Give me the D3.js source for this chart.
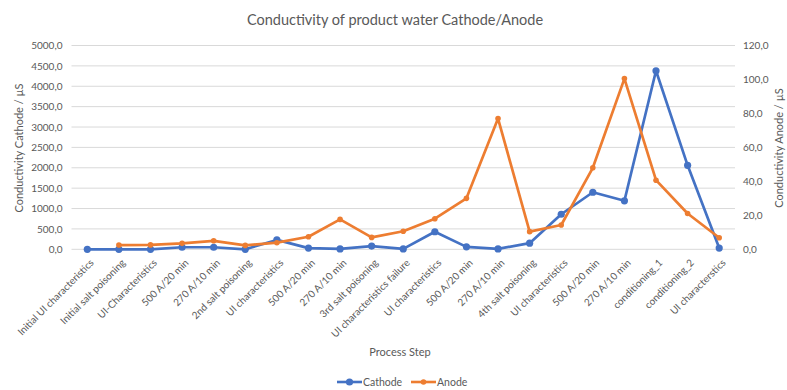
<!DOCTYPE html>
<html><head><meta charset="utf-8">
<script src="https://cdn.jsdelivr.net/npm/d3@7"></script>
<style>body{margin:0;background:#fff;} text{font-family:Lato,"Open Sans",sans-serif;}</style>
</head><body>
<svg id="chart" width="787" height="390"></svg>
<script>
const categories = ["Initial UI characteristics","Initial salt poisoning","UI-Characteristics","500 A/20 min","270 A/10 min","2nd salt poisoning","UI characteristics","500 A/20 min","270 A/10 min","3rd salt poisoning","UI characteristics failure","UI characteristics","500 A/20 min","270 A/10 min","4th salt poisoning","UI characteristics","500 A/20 min","270 A/10 min","conditioning_1","conditioning_2","UI characterstics"];
const cathode = [0,0,0,50,50,0,230,30,10,80,10,430,60,10,150,860,1400,1190,4380,2060,30];
const anode = [null,2.5,2.6,3.5,5.0,2.3,3.9,7.4,17.6,7.0,10.6,18.0,30.0,77.0,10.4,14.3,48.0,100.5,40.7,21.1,6.8];
const leftTicks = [0,500,1000,1500,2000,2500,3000,3500,4000,4500,5000];
const rightTicks = [0,20,40,60,80,100,120];
const seriesNames = ["Cathode","Anode"];
const colors = ["#4472C4","#ED7D31"];

const svg = d3.select("#chart");
const L=71.5, R=735, T=45.5, B=249.3;
const x = d3.scaleBand().domain(d3.range(categories.length)).range([L,R]);
const yL = d3.scaleLinear().domain([0,5000]).range([B,T]);
const yR = d3.scaleLinear().domain([0,120]).range([B,T]);
const fmt = v => d3.format(".1f")(v).replace(".",",");
const grey="#595959";

svg.append("g").selectAll("line").data(leftTicks).join("line")
  .attr("x1",L).attr("x2",R).attr("y1",d=>yL(d)).attr("y2",d=>yL(d))
  .attr("stroke","#d9d9d9").attr("stroke-width",1);

const axL = svg.append("g").attr("transform",`translate(${L},0)`)
  .call(d3.axisLeft(yL).tickValues(leftTicks).tickFormat(fmt).tickSize(0).tickPadding(9));
axL.select(".domain").remove();
axL.selectAll("text").attr("fill",grey).style("font-size","10px");

const axR = svg.append("g").attr("transform",`translate(${R},0)`)
  .call(d3.axisRight(yR).tickValues(rightTicks).tickFormat(fmt).tickSize(0).tickPadding(8));
axR.select(".domain").remove();
axR.selectAll("text").attr("fill",grey).style("font-size","10px");

const axX = svg.append("g").attr("transform",`translate(0,${B})`)
  .call(d3.axisBottom(x).tickFormat(i=>categories[i]).tickSize(0));
axX.select(".domain").remove();
axX.selectAll("text").attr("fill",grey).style("font-size","10px")
  .attr("text-anchor","end").attr("dy","0").attr("dx","0")
  .attr("transform","translate(5,12) rotate(-45)");

const cx = i => x(i)+x.bandwidth()/2;
const lineL = d3.line().x((d,i)=>cx(i)).y(d=>yL(d));
const lineR = d3.line().defined(d=>d!==null).x((d,i)=>cx(i)).y(d=>yR(d));
svg.append("path").datum(cathode).attr("d",lineL).attr("fill","none").attr("stroke",colors[0]).attr("stroke-width",2.7).attr("stroke-linejoin","round");
svg.append("g").selectAll("circle").data(cathode).join("circle")
  .attr("cx",(d,i)=>cx(i)).attr("cy",d=>yL(d)).attr("r",3.6).attr("fill",colors[0]);
svg.append("path").datum(anode).attr("d",lineR).attr("fill","none").attr("stroke",colors[1]).attr("stroke-width",2.7).attr("stroke-linejoin","round");
svg.append("g").selectAll("circle").data(anode.map((d,i)=>({d,i})).filter(o=>o.d!==null)).join("circle")
  .attr("cx",o=>cx(o.i)).attr("cy",o=>yR(o.d)).attr("r",2.8).attr("fill",colors[1]);

svg.append("text").attr("x",395).attr("y",25).attr("text-anchor","middle").attr("fill",grey).style("font-size","14.5px").text("Conductivity of product water Cathode/Anode");
svg.append("text").attr("transform","translate(23,148) rotate(-90)").attr("text-anchor","middle").attr("fill",grey).style("font-size","11px").text("Conductivity Cathode / µS");
svg.append("text").attr("transform","translate(783,148) rotate(-90)").attr("text-anchor","middle").attr("fill",grey).style("font-size","11px").text("Conductivity Anode / µS");
svg.append("text").attr("x",400).attr("y",356).attr("text-anchor","middle").attr("fill",grey).style("font-size","11px").text("Process Step");

const lg = svg.append("g").selectAll("g").data(seriesNames).join("g")
  .attr("transform",(d,i)=>`translate(${[337,411][i]},382)`);
lg.append("line").attr("x1",0).attr("x2",25).attr("stroke",(d,i)=>colors[i]).attr("stroke-width",2.6);
lg.append("circle").attr("cx",12.5).attr("r",(d,i)=>i?2.8:3.6).attr("fill",(d,i)=>colors[i]);
lg.append("text").attr("x",26).attr("y",4).attr("fill",grey).style("font-size","10.5px").text(d=>d);
</script>
</body></html>
